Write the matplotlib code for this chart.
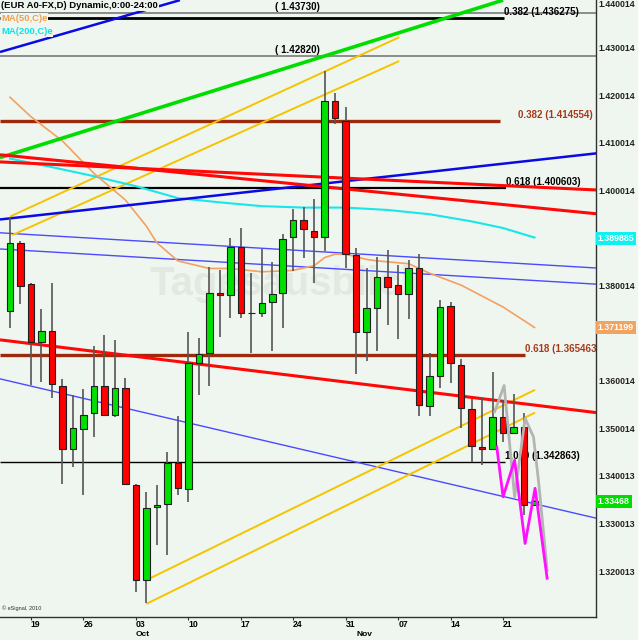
import matplotlib
matplotlib.use('Agg')
import matplotlib.pyplot as plt
import matplotlib.transforms as mtransforms

plt.rcParams['font.family'] = ['Liberation Sans', 'DejaVu Sans']

# daily candles, EUR A0-FX (bar 0 = first visible day)
opens = [1.3747, 1.3889, 1.3803, 1.3681, 1.3705, 1.3590, 1.3457, 1.3499, 1.3532, 1.3590,
         1.3528, 1.3584, 1.3381, 1.3181, 1.3334, 1.3340, 1.3427, 1.3373, 1.3637, 1.3658,
         1.3784, 1.3780, 1.3881, 1.3742, 1.3742, 1.3765, 1.3784, 1.3902, 1.3938, 1.3915,
         1.3902, 1.4187, 1.4147, 1.3864, 1.3703, 1.3752, 1.3818, 1.3801, 1.3782, 1.3838,
         1.3547, 1.3610, 1.3757, 1.3633, 1.3540, 1.3461, 1.3457, 1.3524, 1.3491, 1.3503,
         1.3339]
highs = [1.3945, 1.3894, 1.3806, 1.3750, 1.3805, 1.3604, 1.3570, 1.3583, 1.3673, 1.3696,
         1.3686, 1.3605, 1.3383, 1.3366, 1.3381, 1.3451, 1.3526, 1.3703, 1.3689, 1.3840,
         1.3833, 1.3901, 1.3922, 1.3826, 1.3877, 1.3849, 1.3908, 1.3962, 1.3966, 1.3981,
         1.4251, 1.4204, 1.4176, 1.3878, 1.3836, 1.3861, 1.3875, 1.3843, 1.3854, 1.3866,
         1.3658, 1.3770, 1.3766, 1.3646, 1.3561, 1.3563, 1.3619, 1.3560, 1.3572, 1.3533,
         1.3350]
lows = [1.3710, 1.3761, 1.3591, 1.3598, 1.3564, 1.3384, 1.3419, 1.3360, 1.3482, 1.3526,
        1.3523, 1.3382, 1.3155, 1.3132, 1.3255, 1.3234, 1.3360, 1.3345, 1.3570, 1.3588,
        1.3691, 1.3731, 1.3731, 1.3658, 1.3733, 1.3663, 1.3710, 1.3831, 1.3857, 1.3806,
        1.3873, 1.4139, 1.3836, 1.3614, 1.3642, 1.3663, 1.3717, 1.3688, 1.3730, 1.3526,
        1.3526, 1.3584, 1.3596, 1.3500, 1.3430, 1.3423, 1.3455, 1.3471, 1.3490, 1.3318,
        1.3338]
closes = [1.3889, 1.3799, 1.3681, 1.3705, 1.3593, 1.3457, 1.3501, 1.3529, 1.3590, 1.3528,
          1.3584, 1.3384, 1.3181, 1.3332, 1.3338, 1.3427, 1.3375, 1.3637, 1.3656, 1.3784,
          1.3780, 1.3881, 1.3742, 1.3742, 1.3763, 1.3782, 1.3897, 1.3938, 1.3918, 1.3902,
          1.4187, 1.4152, 1.3866, 1.3703, 1.3752, 1.3818, 1.3798, 1.3782, 1.3838, 1.3548,
          1.3609, 1.3755, 1.3637, 1.3542, 1.3463, 1.3457, 1.3524, 1.3490, 1.3503, 1.3339,
          1.3347]

# week ticks (bar index) and labels
week_idx = [2, 7, 12, 17, 22, 27, 32, 37, 42, 47]
week_labels = ['19', '26', '03', '10', '17', '24', '31', '07', '14', '21']
month_idx = [12, 33]
month_labels = ['Oct', 'Nov']

# 1.390014 and 1.370014 sit under the price boxes, so they are left out
price_ticks = [1.440014, 1.430014, 1.420014, 1.410014, 1.400014, 1.380014,
               1.360014, 1.350014, 1.340013, 1.330013, 1.320013]

# moving averages
ma50_idx = [0, 2, 5, 8, 11, 13, 14, 16, 19, 21, 24, 27, 29, 30, 31, 32, 34, 35, 38, 40, 43, 47, 50]
ma50_val = [1.4196, 1.4155, 1.4104, 1.4036, 1.3980, 1.3925, 1.3890, 1.3852, 1.3836, 1.3836,
            1.3829, 1.3832, 1.3842, 1.3859, 1.3866, 1.3866, 1.3855, 1.3852, 1.3846, 1.3826,
            1.3801, 1.3755, 1.3712]
ma200_idx = [0, 4, 8, 12, 16, 20, 24, 28, 32, 36, 40, 44, 47, 50]
ma200_val = [1.4067, 1.4049, 1.4030, 1.4009, 1.3984, 1.3975, 1.3967, 1.3964, 1.3964, 1.3959,
             1.3950, 1.3935, 1.3921, 1.3901]

# trend lines: ([x0, x1], [p0, p1])
tl_green = ([-0.95, 47.0], [1.4069, 1.4400])
tl_blue_top = ([-0.95, 16.2], [1.4291, 1.4400])
tl_blue_mid = ([-0.95, 55.9], [1.3939, 1.4078])
tl_blue_thin1 = ([-0.95, 55.9], [1.3911, 1.3837])
tl_blue_thin2 = ([-0.95, 55.9], [1.3877, 1.3803])
tl_blue_low = ([-0.95, 55.9], [1.3604, 1.3311])
tl_red1 = ([-0.95, 55.9], [1.4075, 1.3951])
tl_red2 = ([-0.95, 55.9], [1.4060, 1.4001])
tl_red_low = ([-0.95, 55.9], [1.3686, 1.3533])
tl_yellow1 = ([0.0, 37.1], [1.3945, 1.4322])
tl_yellow2 = ([0.2, 37.1], [1.3906, 1.4272])
tl_yellow3 = ([13.0, 50.05], [1.3181, 1.3581])
tl_yellow4 = ([13.0, 50.05], [1.3131, 1.3533])

# fibonacci / level lines
lvl_price = [1.4373, 1.436275, 1.4282, 1.414554, 1.400603, 1.365463, 1.342863]
lvl_end = [None, 47.1, None, 46.7, 47.3, 49.1, 47.2]
lvl_text = ['( 1.43730)', '0.382 (1.436275)', '( 1.42820)', '0.382 (1.414554)',
            '0.618 (1.400603)', '0.618 (1.365463)', '1.000 (1.342863)']
lvl_text_at = [27.4, 47.1, 27.4, 48.4, 47.3, 49.1, 47.2]

# projection paths
gray_idx = [46.2, 47.1, 48.1, 49.1, 49.9, 50.4, 51.2]
gray_val = [1.3535, 1.3590, 1.3356, 1.3521, 1.3482, 1.3385, 1.3202]
pink_idx = [46.4, 47.0, 48.1, 49.1, 50.05, 51.2]
pink_val = [1.3461, 1.3356, 1.3433, 1.3258, 1.3374, 1.3185]

ma50_last = 1.371199
ma200_last = 1.389885
last_close = 1.33468

BG = '#eff6ef'
fig = plt.figure(figsize=(6.38, 6.40), dpi=100, facecolor=BG)
ax = fig.add_axes([0, 0.0359, 0.9342, 0.9641])
ax.set_facecolor(BG)
ax.set_xlim(-0.95, 55.86)
ax.set_ylim(1.31034, 1.44003)

ax.text(0.48, 0.54, 'Tagesausblick', transform=ax.transAxes, ha='center', va='center',
        fontsize=29, fontweight='bold', color='#e2e9e1', zorder=0)

# level lines
for p, e, t, tx in zip(lvl_price, lvl_end, lvl_text, lvl_text_at):
    if e is None:
        ax.axhline(p, color='#7a7a7a', lw=1.2, zorder=2)
        ax.text(tx, p + 0.0002, t, ha='center', va='bottom', fontsize=7,
                fontweight='bold', color='black', zorder=2)
        continue
    brown = t in ('0.382 (1.414554)', '0.618 (1.365463)')
    col = '#9e2a0c' if brown else 'black'
    lw = 2.4 if brown else (2.0 if p > 1.43 else (1.6 if p > 1.4 else 1.0))
    ax.plot([-0.95, e], [p, p], color=col, lw=lw, solid_capstyle='butt', zorder=2)
    ax.text(tx, p + 0.0002, t, ha='left', va='bottom', fontsize=7, fontweight='bold',
            color='#a8381a' if brown else 'black', zorder=2, clip_on=True)

# trend lines
def tline(tl, color, lw):
    ax.plot(tl[0], tl[1], color=color, lw=lw, zorder=3, solid_capstyle='butt')

tline(tl_blue_thin1, '#4a4aff', 1.0)
tline(tl_blue_thin2, '#4a4aff', 1.0)
tline(tl_blue_low, '#4a4aff', 1.0)
tline(tl_yellow1, '#f5c400', 1.4)
tline(tl_yellow2, '#f5c400', 1.4)
tline(tl_yellow3, '#f5c400', 1.4)
tline(tl_yellow4, '#f5c400', 1.4)
ax.plot(ma200_idx, ma200_val, color='#18e6ea', lw=1.5, zorder=3)
ax.plot(ma50_idx, ma50_val, color='#f4a060', lw=1.2, zorder=3)
tline(tl_green, '#00dd00', 2.6)
tline(tl_blue_top, '#0a0ae6', 1.8)
tline(tl_blue_mid, '#0a0ae6', 1.8)
tline(tl_red1, '#ff0808', 2.2)
tline(tl_red2, '#ff0808', 2.2)
tline(tl_red_low, '#ff0808', 2.2)

# candles
idx = list(range(len(opens)))
ax.vlines(idx, lows, highs, color='#555555', lw=1.2, zorder=4)
bottoms = [min(o, c) for o, c in zip(opens, closes)]
heights = [max(abs(c - o), 0.00004) for o, c in zip(opens, closes)]
colors = ['#00e000' if c >= o else '#ff0000' for o, c in zip(opens, closes)]
ax.bar(idx, heights, bottom=bottoms, width=0.62, color=colors, edgecolor='#202020',
       linewidth=0.8, zorder=5)

ax.plot(gray_idx, gray_val, color='#b4b4b4', lw=2.0, zorder=6)
ax.plot(pink_idx, pink_val, color='#ff10ff', lw=2.0, zorder=6)

# axes styling
for s in ['left', 'top']:
    ax.spines[s].set_visible(False)
for s in ['right', 'bottom']:
    ax.spines[s].set_color('#303030')
    ax.spines[s].set_linewidth(1.0)

ax.yaxis.tick_right()
ax.set_yticks(price_ticks, ['%.6f' % v for v in price_ticks])
ax.tick_params(axis='y', length=0, pad=2, labelsize=6.3, labelcolor='#202020')
for lbl in ax.get_yticklabels():
    lbl.set_fontweight('bold')
    if lbl.get_text() == '1.440014':
        lbl.set_va('top')

ax.set_xticks(week_idx, week_labels)
ax.tick_params(axis='x', length=2.5, pad=0, labelsize=6.2, color='#303030')
for lbl in ax.get_xticklabels():
    lbl.set_fontweight('bold')
    lbl.set_ha('left')
xt = mtransforms.blended_transform_factory(ax.transData, ax.transAxes)
for m, t in zip(month_idx, month_labels):
    ax.text(m, -0.0225, t, transform=xt, ha='left', va='top', fontsize=6.0,
            fontweight='bold', clip_on=False)

# price boxes at the right
bt = mtransforms.blended_transform_factory(ax.transAxes, ax.transData)
for p, t, fc in [(ma200_last, '1.389885', '#10f0f0'), (ma50_last, '1.371199', '#f0a460'),
                 (last_close, '1.33468', '#00dc00')]:
    ax.text(1.003, p, t, transform=bt, ha='left', va='center', fontsize=6.3,
            fontweight='bold', color='white', clip_on=False, zorder=10,
            bbox=dict(facecolor=fc, edgecolor='none', pad=1.4))

# header
hdr = dict(transform=ax.transAxes, ha='left', va='center', fontsize=6.8, fontweight='bold',
           zorder=8, bbox=dict(facecolor=BG, edgecolor='none', pad=0.5))
ax.text(0.002, 0.991, '(EUR A0-FX,D) Dynamic,0:00-24:00', color='black', **hdr)
ax.text(0.002, 0.970, 'MA(50,C)e', color='#f0a050', **hdr)
ax.text(0.002, 0.949, 'MA(200,C)e', color='#10e0e8', **hdr)
ax.text(0.004, 0.01, '\u00a9 eSignal, 2010', transform=ax.transAxes, fontsize=4,
        color='#303030', ha='left', va='bottom')

fig.savefig('out.png', dpi=100, facecolor=BG)
